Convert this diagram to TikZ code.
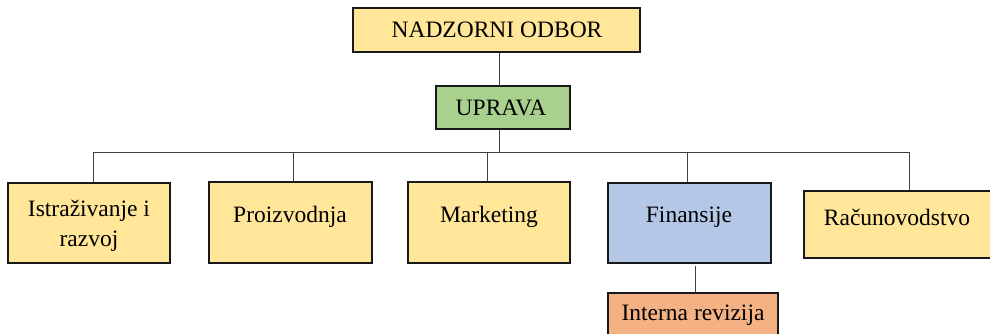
\documentclass[tikz,border=0pt]{standalone}
\usepackage{fontspec}
\setmainfont{Liberation Serif}
\definecolor{yel}{HTML}{FFE699}
\definecolor{grn}{HTML}{A9D18E}
\definecolor{blu}{HTML}{B4C7E7}
\definecolor{org}{HTML}{F4B183}
\definecolor{lin}{HTML}{404040}
\begin{document}
\begin{tikzpicture}[x=1pt,y=-1pt,
  box/.style={draw=black!90,line width=1.4pt,inner sep=0pt},
  lbl/.style={anchor=base,inner sep=0pt,font=\fontsize{23.5}{30}\selectfont},
  conn/.style={draw=lin,line width=0.9pt}]
\useasboundingbox (0,0) rectangle (990,333);
\begin{scope}
\clip (0,0) rectangle (990,333);
% boxes
\node[box,fill=yel,minimum width=287pt,minimum height=44pt] (nad) at (496.5,30) {};
\node[box,fill=grn,minimum width=134pt,minimum height=43pt] (upr) at (503,107.5) {};
\node[box,fill=yel,minimum width=162pt,minimum height=80pt] (ist) at (89,223) {};
\node[box,fill=yel,minimum width=163pt,minimum height=81pt] (pro) at (290.5,222.5) {};
\node[box,fill=yel,minimum width=162pt,minimum height=81pt] (mar) at (489,222.5) {};
\node[box,fill=blu,minimum width=163pt,minimum height=80pt] (fin) at (689.5,223) {};
\node[box,fill=yel,minimum width=190pt,minimum height=67pt] (rac) at (899,224.5) {};
\node[box,fill=org,minimum width=170pt,minimum height=50pt] (int) at (693,318) {};
% labels
\node[lbl] (tnad) at (497,37.5) {NADZORNI ODBOR};
\node[lbl] (tupr) at (501,115) {UPRAVA};
\node[lbl,align=center] (tist) at (89,246) {Istraživanje i\\razvoj};
\node[lbl] (tpro) at (290,222) {Proizvodnja};
\node[lbl] (tmar) at (489,222) {Marketing};
\node[lbl] (tfin) at (689,222) {Finansije};
\node[lbl] (trac) at (897,225.5) {Računovodstvo};
\node[lbl] (tint) at (693,320) {Interna revizija};
% connectors
\coordinate (top) at (499,152);
\coordinate (b1) at (93,152);
\coordinate (b2) at (293,152);
\coordinate (b3) at (487,152);
\coordinate (b4) at (687,152);
\coordinate (b5) at (909,152);
\coordinate (fs) at (695,266);
\draw[conn] (nad.south -| top) -- (upr.north -| top);
\draw[conn] (upr.south -| top) -- (top);
\draw[conn] (b1) -- (b5);
\draw[conn] (b1) -- (b1 |- ist.north);
\draw[conn] (b2) -- (b2 |- pro.north);
\draw[conn] (b3) -- (b3 |- mar.north);
\draw[conn] (b4) -- (b4 |- fin.north);
\draw[conn] (b5) -- (b5 |- rac.north);
\draw[conn] (fs) -- (fs |- int.north);
\end{scope}
\end{tikzpicture}
\end{document}
